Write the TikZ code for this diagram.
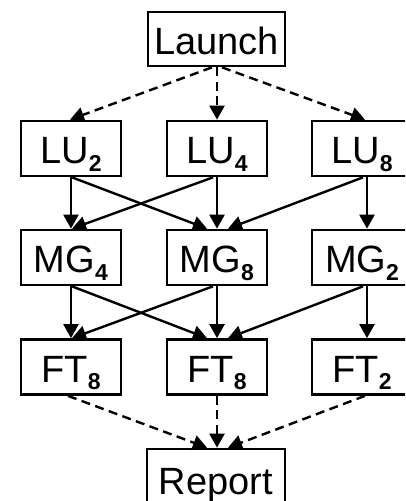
\documentclass[tikz,border=0pt]{standalone}
\usepackage{fontspec}
\setmainfont{Liberation Sans}
\usetikzlibrary{arrows.meta}
\newcommand\subsc[1]{\raisebox{-7.6pt}{\fontsize{23}{23}\selectfont\bfseries #1}}
\begin{document}
\begin{tikzpicture}[x=1pt,y=-1pt,
  box/.style={draw, line width=2.7pt, minimum width=100pt, minimum height=55pt,
    inner sep=0pt, text height=30.3pt, text depth=0pt,
    font=\fontsize{38}{40}\selectfont},
  arr/.style={line width=2.4pt, -{Triangle[length=14pt,width=15pt]}},
  dsh/.style={arr, dash pattern=on 9pt off 5.5pt}]
\useasboundingbox (0,0) rectangle (405,501);
\clip (0,0) rectangle (405,501);
% nodes
\node[box, minimum width=137pt, minimum height=54pt] (launch) at (216.5,39) {Launch};
\node[box] (lu2) at (71,148.5) {LU\subsc{2}};
\node[box] (lu4) at (217,148.5) {LU\subsc{4}};
\node[box] (lu8) at (362,148.5) {LU\subsc{8}};
\node[box] (mg4) at (71,257.5) {MG\subsc{4}};
\node[box] (mg8) at (217,257.5) {MG\subsc{8}};
\node[box] (mg2) at (362,257.5) {MG\subsc{2}};
\node[box] (fta) at (71,367) {FT\subsc{8}};
\node[box] (ftb) at (217,367) {FT\subsc{8}};
\node[box] (ftc) at (362,367) {FT\subsc{2}};
\node[box, minimum width=138pt, text height=36.3pt] (report) at (216,476.5) {Report};
% launch edges
\draw[dsh] ([xshift=-4.5pt]launch.south) -- ([xshift=-1pt]lu2.north);
\draw[dsh] (launch.south -| lu4.north) -- (lu4.north);
\draw[dsh] ([xshift=5.5pt]launch.south) -- ([xshift=3pt]lu8.north);
% LU -> MG
\draw[arr] (lu2.south) -- (mg4.north);
\draw[arr] ([xshift=1pt]lu2.south) -- ([xshift=-10pt]mg8.north);
\draw[arr] ([xshift=-4pt]lu4.south) -- ([xshift=1pt]mg4.north);
\draw[arr] (lu4.south) -- (mg8.north);
\draw[arr] ([xshift=1pt]lu8.south) -- ([xshift=11pt]mg8.north);
\draw[arr] ([xshift=5pt]lu8.south) -- ([xshift=5pt]mg2.north);
% MG -> FT
\draw[arr] (mg4.south) -- (fta.north);
\draw[arr] ([xshift=1pt]mg4.south) -- ([xshift=-10pt]ftb.north);
\draw[arr] ([xshift=-4pt]mg8.south) -- ([xshift=1pt]fta.north);
\draw[arr] (mg8.south) -- (ftb.north);
\draw[arr] ([xshift=1pt]mg2.south) -- ([xshift=11pt]ftb.north);
\draw[arr] ([xshift=5pt]mg2.south) -- ([xshift=5pt]ftc.north);
% FT -> report
\draw[dsh] ([xshift=-3pt]fta.south) -- ([xshift=-9pt]report.north);
\draw[dsh] (ftb.south) -- (ftb.south |- report.north);
\draw[dsh] ([xshift=3pt]ftc.south) -- ([xshift=12pt]report.north);
\end{tikzpicture}
\end{document}
